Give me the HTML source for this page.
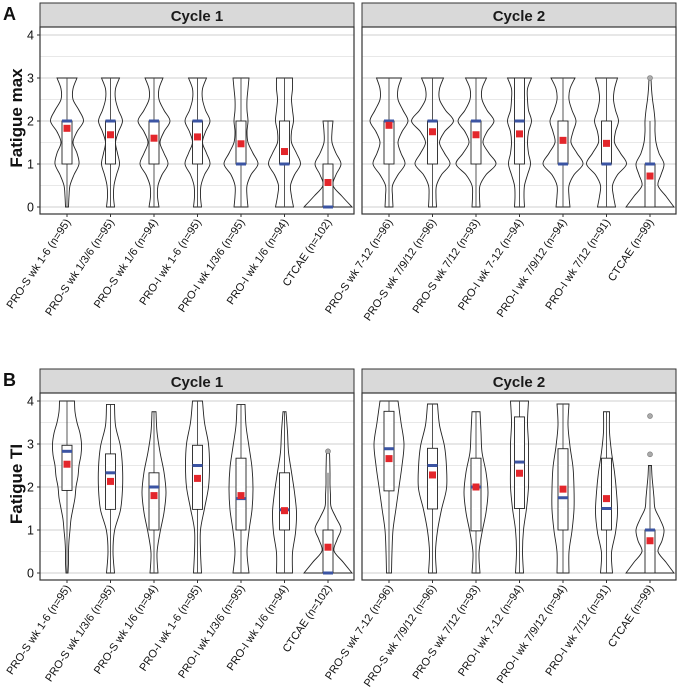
<!DOCTYPE html>
<html><head><meta charset="utf-8"><style>
body{margin:0;background:#fff;}
svg{display:block;font-family:"Liberation Sans",sans-serif;}
</style></head><body>
<svg id="chart" width="680" height="695" viewBox="0 0 680 695" xmlns="http://www.w3.org/2000/svg"></svg>
<script>
// ---- data ----
const cycle1Cats = ["PRO-S wk 1-6 (n=95)","PRO-S wk 1/3/6 (n=95)","PRO-S wk 1/6 (n=94)","PRO-I wk 1-6 (n=95)","PRO-I wk 1/3/6 (n=95)","PRO-I wk 1/6 (n=94)","CTCAE (n=102)"];
const cycle2Cats = ["PRO-S wk 7-12 (n=96)","PRO-S wk 7/9/12 (n=96)","PRO-S wk 7/12 (n=93)","PRO-I wk 7-12 (n=94)","PRO-I wk 7/9/12 (n=94)","PRO-I wk 7/12 (n=91)","CTCAE (n=99)"];
const yTicks = [0,1,2,3,4];
// stats: [q1, median, q3, mean, whiskerLow, whiskerHigh]
const maxC1Stats = [[1,2,2,1.83,0,3],[1,2,2,1.68,0,3],[1,2,2,1.6,0,3],[1,2,2,1.63,0,3],[1,1,2,1.47,0,3],[1,1,2,1.29,0,3],[0,0,1,0.57,0,2]];
const maxC2Stats = [[1,2,2,1.9,0,3],[1,2,2,1.75,0,3],[1,2,2,1.68,0,3],[1,2,3,1.7,0,3],[1,1,2,1.55,0,3],[1,1,2,1.48,0,3],[0,1,1,0.72,0,2]];
const tiC1Stats = [[1.92,2.83,2.97,2.53,0,4],[1.48,2.33,2.77,2.13,0,3.92],[1,2,2.33,1.8,0,3.75],[1.48,2.5,2.97,2.2,0,4],[1,1.73,2.67,1.8,0,3.92],[1,1.47,2.33,1.45,0,3.75],[0,0,1,0.6,0,2.33]];
const tiC2Stats = [[1.91,2.89,3.76,2.66,0,4],[1.49,2.5,2.9,2.28,0,3.93],[0.98,2,2.67,2,0,3.75],[1.5,2.58,3.63,2.32,0,4],[1,1.75,2.89,1.95,0,3.93],[1,1.5,2.67,1.73,0,3.75],[0,1,1,0.75,0,2.5]];
// violin ranges [min,max]
const maxC1Range = [[0,3],[0,3],[0,3],[0,3],[0,3],[0,3],[0,2]];
const maxC2Range = [[0,3],[0,3],[0,3],[0,3],[0,3],[0,3],[0,3]];
const tiC1Range = [[0,4],[0,3.92],[0,3.75],[0,4],[0,3.92],[0,3.75],[0,2.83]];
const tiC2Range = [[0,4],[0,3.93],[0,3.75],[0,4],[0,3.93],[0,3.75],[0,2.5]];
// density (half-width, evenly sampled from min to max)
const maxC1Dens = [
 [1.5,2,3,7,12,10,6,10,16.5,12,6,6,10],
 [4,3,3.5,6,9,7,5,8,12,8,5,5,9],
 [5,3.5,4,8,14,10,6,10,16,10,5,5,9],
 [4,3,3.5,7,12.5,9,5,8,12.5,8,5,5,9],
 [7,6,6,10,17,12,7,6,7,6,6,7,8],
 [9,7,6,10,16,12,7,7,9,8,7,8,8],
 [24,14,5,8,13,8,4,4,5]];
const maxC2Dens = [
 [4,3.5,3.5,9,16,12,9,13,19,14,9,9,12.5],
 [4,3.5,4,9,17.5,12,7,12,21,13,7,7,11],
 [4,3.5,4,10,20,13,7,11,18,11,6,6,10.5],
 [5,4.5,5,8,11,9,8,9,12,9,8,8,12],
 [7,6,6,11,20,14,8,10,13,9,6,7,12],
 [9,7,6,11,20,14,8,9,12,9,7,8,11],
 [24,16,8,11,14,9,6,5,5,4,2.5,1.5,1]];
const tiC1Dens = [
 [1,1.5,1.5,2,3,4,6,8,9,11,12,14,14.5,13,10,8,7.5],
 [4,2.5,4,10,12,12,10,5,4],
 [4,3,6,10,12,10,6,3,2],
 [4,3,3,7,11,12,11,7,5],
 [8,6,8,11,12,11,8,5,4],
 [8,8,11,12,10,7,4,3,1.5],
 [24,15,6,9,13,8,3,2.5,2,2,1.8,1.5]];
const tiC2Dens = [
 [2.5,3,4,7,10,13,15,12,9],
 [4,3,5,9,14,14,12,7,5],
 [4,3,6,10,12,10,6,5,4],
 [4,3,4,7,9,9,9,8,9],
 [6,6,9,11,11,10,7,5,6],
 [6,5,9,11,10,8,5,3,3],
 [24,16,8,12,14,10,5,4,3,2,1.5]];
const maxOutliers = [[], [[6,3]]];
const tiOutliers = [[[6,2.83]], [[6,3.65],[6,2.76]]];

// ---- drawing ----
const NS="http://www.w3.org/2000/svg";
const svg=document.getElementById('chart');
function mk(tag,attrs,parent){const e=document.createElementNS(NS,tag);for(const k in attrs)e.setAttribute(k,attrs[k]);(parent||svg).appendChild(e);return e;}
function catmull(pts){let d="";for(let i=0;i<pts.length-1;i++){const p0=pts[i-1]||pts[i],p1=pts[i],p2=pts[i+1],p3=pts[i+2]||p2;
 const c1=[p1[0]+(p2[0]-p0[0])/6,p1[1]+(p2[1]-p0[1])/6],c2=[p2[0]-(p3[0]-p1[0])/6,p2[1]-(p3[1]-p1[1])/6];
 d+=` C${c1[0].toFixed(2)},${c1[1].toFixed(2)} ${c2[0].toFixed(2)},${c2[1].toFixed(2)} ${p2[0].toFixed(2)},${p2[1].toFixed(2)}`;}return d;}

function panel(g,left,top,cats,stats,ranges,dens,outl,title,showY){
 const W=314,H=187,plotTop=top+24;
 const y=v=>top+204-v*43;
 const x=i=>left+27+i*43.5;
 const st=mk('rect',{x:left,y:top,width:W,height:24,fill:'#d9d9d9',stroke:'#333','stroke-width':1},g);
 
 const tt=mk('text',{x:left+W/2,y:top+18,'text-anchor':'middle','font-size':15,'font-weight':'bold',fill:'#1a1a1a'},g);
 tt.textContent=title;
 for(let v=0;v<=4.01;v+=0.5){mk('line',{x1:left,x2:left+W,y1:y(v),y2:y(v),stroke:Number.isInteger(v)?'#cfcfcf':'#e0e0e0','stroke-width':Number.isInteger(v)?1:0.8},g);}
 const vg=mk('g',{},g);
 stats.forEach((s,i)=>{
  const cx=x(i),[a,b]=ranges[i],dd=dens[i],n=dd.length;
  const R=[],L=[];
  for(let k=0;k<n;k++){const v=a+(b-a)*k/(n-1);R.push([cx+dd[k],y(v)]);}
  for(let k=n-1;k>=0;k--){const v=a+(b-a)*k/(n-1);L.push([cx-dd[k],y(v)]);}
  let d=`M${cx},${y(a)} L${R[0][0]},${R[0][1]}`+catmull(R)+` L${L[0][0]},${L[0][1]}`+catmull(L)+' Z';
  const p=mk('path',{d:d,fill:'none',stroke:'#222','stroke-width':0.9},vg);
  
  mk('line',{x1:cx,x2:cx,y1:y(s[4]),y2:y(s[5]),stroke:'#444','stroke-width':0.9},vg);
  const bx=mk('rect',{x:cx-5,y:y(s[2]),width:10,height:Math.max(0.5,y(s[0])-y(s[2])),fill:'#fff',stroke:'#222','stroke-width':0.9},vg);
  
  const md=mk('line',{x1:cx-5,x2:cx+5,y1:y(s[1]),y2:y(s[1]),stroke:'#3b54a3','stroke-width':3},vg);
  
  const mn=mk('rect',{x:cx-3.5,y:y(s[3])-3.5,width:7,height:7,fill:'#e3262b'},vg);
  
  mk('line',{x1:cx,x2:cx,y1:top+H+24,y2:top+H+27,stroke:'#333'},g);
  const lb=mk('text',{transform:`translate(${cx+4},${top+H+32}) rotate(-56)`,'text-anchor':'end','font-size':11,fill:'#111'},g);
  lb.textContent=cats[i];
 });
 outl.forEach(o=>{const c=mk('circle',{cx:x(o[0]),cy:y(o[1]),r:2.5,fill:'#aaa',stroke:'#777','stroke-width':0.6},vg);
  });
 mk('rect',{x:left,y:plotTop,width:W,height:H,fill:'none',stroke:'#333','stroke-width':1.2},g);
 if(showY){yTicks.forEach(t=>{mk('line',{x1:left-3,x2:left,y1:y(t),y2:y(t),stroke:'#333'},g);
  const tl=mk('text',{x:left-6,y:y(t)+4.5,'text-anchor':'end','font-size':12.5,fill:'#111'},g);
  tl.textContent=t;});}
}
function figure(off,letter,ytitle,s1,s2,r1,r2,d1,d2,out){
 const g=mk('g',{});
 
 const L=mk('text',{x:3,y:off+20,'font-size':18,'font-weight':'bold',fill:'#111'},g);
 L.textContent=letter;
 const yt=mk('text',{transform:`translate(22,${off+118}) rotate(-90)`,'text-anchor':'middle','font-size':17,'font-weight':'bold',fill:'#111'},g);
 yt.textContent=ytitle;
 panel(g,40,off+3,cycle1Cats,s1,r1,d1,out[0],'Cycle 1',true);
 panel(g,362,off+3,cycle2Cats,s2,r2,d2,out[1],'Cycle 2',false);
}
figure(0,'A','Fatigue max',maxC1Stats,maxC2Stats,maxC1Range,maxC2Range,maxC1Dens,maxC2Dens,maxOutliers);
figure(366,'B','Fatigue TI',tiC1Stats,tiC2Stats,tiC1Range,tiC2Range,tiC1Dens,tiC2Dens,tiOutliers);
</script>
</body></html>
